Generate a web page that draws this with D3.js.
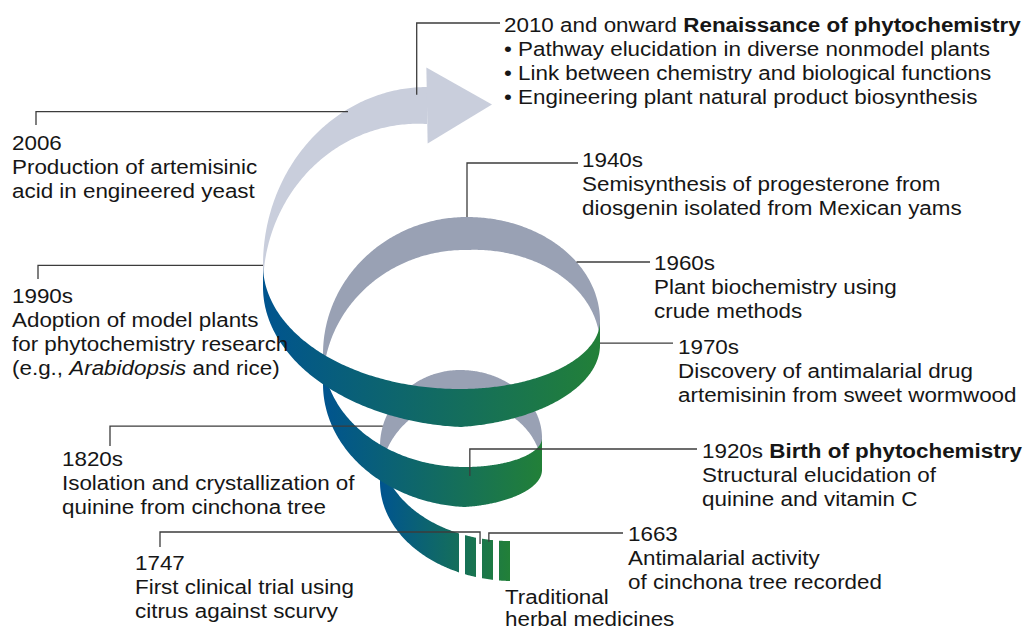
<!DOCTYPE html>
<html>
<head>
    <script src="https://d3js.org/d3.v7.min.js"></script>
    <style>
        body { margin: 0; background: #fff; }
        svg { display: block; background: #fff; }
        .label { font-family: "Liberation Sans", Arial, Helvetica, sans-serif; font-size: 21px; fill: #161616; }
        .leader { fill: none; stroke: #3c3c3c; stroke-width: 1.3px; }
    </style>
</head>
<body>
    <svg width="1024" height="632"></svg>
    <script>
        // Timeline entries, newest first
        const years = ["2010 and onward", "2006", "1990s", "1940s", "1960s", "1970s", "1920s", "1820s", "1747", "1663", "Traditional"];
        const headings = ["Renaissance of phytochemistry", "", "", "", "", "", "Birth of phytochemistry", "", "", "", ""];
        const details = [
            ["• Pathway elucidation in diverse nonmodel plants",
             "• Link between chemistry and biological functions",
             "• Engineering plant natural product biosynthesis"],
            ["Production of artemisinic", "acid in engineered yeast"],
            ["Adoption of model plants", "for phytochemistry research", "(e.g., *Arabidopsis* and rice)"],
            ["Semisynthesis of progesterone from", "diosgenin isolated from Mexican yams"],
            ["Plant biochemistry using", "crude methods"],
            ["Discovery of antimalarial drug", "artemisinin from sweet wormwood"],
            ["Structural elucidation of", "quinine and vitamin C"],
            ["Isolation and crystallization of", "quinine from cinchona tree"],
            ["First clinical trial using", "citrus against scurvy"],
            ["Antimalarial activity", "of cinchona tree recorded"],
            ["herbal medicines"]
        ];

        // where each entry sits on the spiral (u = turns) and how its label is placed
        const layout = [
            {u: 2.740, f: 0.2,  lx: 504, ly: 32,  lh: 24, path: [["v", 23], ["h", 500]]},
            {u: 2.670, f: 0.08, lx: 12,  ly: 150, lh: 24, path: [["h", 36], ["v", 125]]},
            {u: 2.5,   f: 0.02, lx: 12,  ly: 303, lh: 24, path: [["h", 38], ["v", 279]]},
            {u: 1.75,  f: 0,    lx: 582, ly: 167, lh: 24, path: [["v", 163], ["h", 578]]},
            {u: 1.904, f: 0,    lx: 654, ly: 270, lh: 24, path: [["h", 650]]},
            {u: 2.0,   f: 0.92, lx: 678, ly: 354, lh: 24, path: [["h", 673]]},
            {u: 1.24,  f: 0.23, lx: 702, ly: 458, lh: 24, path: [["v", 449], ["h", 697]]},
            {u: 0.542, f: 0,    lx: 62,  ly: 466, lh: 24, path: [["h", 110], ["v", 446]]},
            {u: 0.287, f: 0.14, lx: 135, ly: 570, lh: 24, path: [["v", 532], ["h", 160], ["v", 547]]},
            {u: 0.276, f: 0.05, lx: 628, ly: 541, lh: 24, path: [["v", 533], ["h", 623]]},
            {u: null,  f: 0,    lx: 505, ly: 604, lh: 22, path: null}
        ];

        // ribbon shape: top edge of the band at each quarter turn, w = band height
        const knots = [
            {u: 0.25, x: 510, y: 541, w: 40},
            {u: 0.5,  x: 380, y: 446, w: 36},
            {u: 0.75, x: 460, y: 370, w: 30},
            {u: 1.0,  x: 542, y: 438, w: 32},
            {u: 1.25, x: 465, y: 467, w: 40},
            {u: 1.5,  x: 323, y: 354, w: 30},
            {u: 1.75, x: 467, y: 217, w: 33},
            {u: 2.0,  x: 600, y: 321, w: 24},
            {u: 2.25, x: 460, y: 389, w: 38},
            {u: 2.5,  x: 263, y: 265, w: 22},
            {u: 2.75, x: 427, y: 87,  w: 37}
        ];

        const segments = [
            {from: 0.5, to: 1.0, side: "back"},
            {from: 1.5, to: 2.0, side: "back"},
            {from: 2.5, to: 2.75, side: "arrow"},
            {from: 0.25, to: 0.5, side: "front"},
            {from: 1.0, to: 1.5, side: "front"},
            {from: 2.0, to: 2.5, side: "front"}
        ];

        const colors = {back: "#99a1b4", arrow: "#c9cedc", blue: "#00548f", green: "#228038"};
        const textScale = 1.067;

        const svg = d3.select("svg");
        const defs = svg.append("defs");

        // quarter-ellipse interpolation between knots
        function ribbonAt(u) {
            let i = Math.floor((u - knots[0].u) / 0.25);
            i = Math.max(0, Math.min(knots.length - 2, i));
            const a = knots[i], b = knots[i + 1];
            const t = (u - a.u) / 0.25;
            const s = Math.sin(t * Math.PI / 2), c = Math.cos(t * Math.PI / 2);
            const aPole = Math.round(a.u * 4) % 2 === 1;
            let x, y;
            if (aPole) { x = a.x + (b.x - a.x) * s; y = b.y + (a.y - b.y) * c; }
            else { x = b.x + (a.x - b.x) * c; y = a.y + (b.y - a.y) * s; }
            return {x: x, y: y, w: a.w + (b.w - a.w) * t};
        }

        const line = d3.line().x(d => d[0]).y(d => d[1]);

        function bandPath(u0, u1) {
            const us = d3.range(u0, u1, 0.002).concat([u1]);
            const pts = us.map(ribbonAt);
            const top = pts.map(p => [p.x, p.y]);
            const bottom = pts.map(p => [p.x, p.y + p.w]).reverse();
            return line(top.concat(bottom)) + "Z";
        }

        const ribbon = svg.append("g");
        segments.forEach((seg, k) => {
            let fill = colors[seg.side];
            if (seg.side === "front") {
                const id = "grad" + k;
                const g = defs.append("linearGradient").attr("id", id)
                    .attr("x1", 0).attr("x2", 1).attr("y1", 0).attr("y2", 0);
                g.append("stop").attr("offset", 0).attr("stop-color", colors.blue);
                g.append("stop").attr("offset", 1).attr("stop-color", colors.green);
                fill = "url(#" + id + ")";
            }
            ribbon.append("path").attr("d", bandPath(seg.from, seg.to)).attr("fill", fill);
        });

        // arrow head at the end of the ribbon
        const tip = ribbonAt(2.75), prev = ribbonAt(2.745);
        const cxA = tip.x, cyA = tip.y + tip.w / 2;
        const ang = Math.atan2((tip.y - prev.y), (tip.x - prev.x));
        const half = 38, len = 65;
        const nx = -Math.sin(ang), ny = Math.cos(ang);
        ribbon.append("path")
            .attr("d", line([
                [cxA + nx * half, cyA + ny * half],
                [cxA - nx * half, cyA - ny * half],
                [cxA + Math.cos(ang) * len, cyA + Math.sin(ang) * len]
            ]) + "Z")
            .attr("fill", colors.arrow);

        // white gaps that break the start of the ribbon into bars
        const start = ribbonAt(0.25);
        const barW = 11, gapW = 6;
        d3.range(3).forEach(i => {
            const gx = start.x - (i + 1) * barW - (i + 1) * gapW;
            const probe = d3.range(0.25, 0.5, 0.001).map(ribbonAt)
                .find(p => p.x <= gx + gapW / 2);
            ribbon.append("rect")
                .attr("x", gx).attr("width", gapW)
                .attr("y", probe.y - 6).attr("height", probe.w + 12)
                .attr("fill", "#fff");
        });

        // leader lines
        layout.forEach(l => {
            if (!l.path) return;
            const p = ribbonAt(l.u);
            let cur = [p.x, p.y + l.f * p.w];
            const pts = [cur];
            l.path.forEach(step => {
                cur = step[0] === "v" ? [cur[0], step[1]] : [step[1], cur[1]];
                pts.push(cur);
            });
            svg.append("path").attr("class", "leader").attr("d", line(pts));
        });

        // labels
        years.forEach((yr, i) => {
            const l = layout[i];
            const t = svg.append("text").attr("class", "label")
                .attr("transform", `translate(${l.lx},${l.ly}) scale(${textScale},1)`);
            const first = t.append("tspan").attr("x", 0).attr("y", 0);
            first.append("tspan").text(yr + (headings[i] ? " " : ""));
            if (headings[i]) first.append("tspan").attr("font-weight", "bold").text(headings[i]);
            details[i].forEach((d, j) => {
                const row = t.append("tspan").attr("x", 0).attr("y", (j + 1) * l.lh);
                d.split("*").forEach((part, k) => {
                    if (!part) return;
                    const s = row.append("tspan").text(part);
                    if (k % 2 === 1) s.attr("font-style", "italic");
                });
            });
        });
    </script>
</body>
</html>
